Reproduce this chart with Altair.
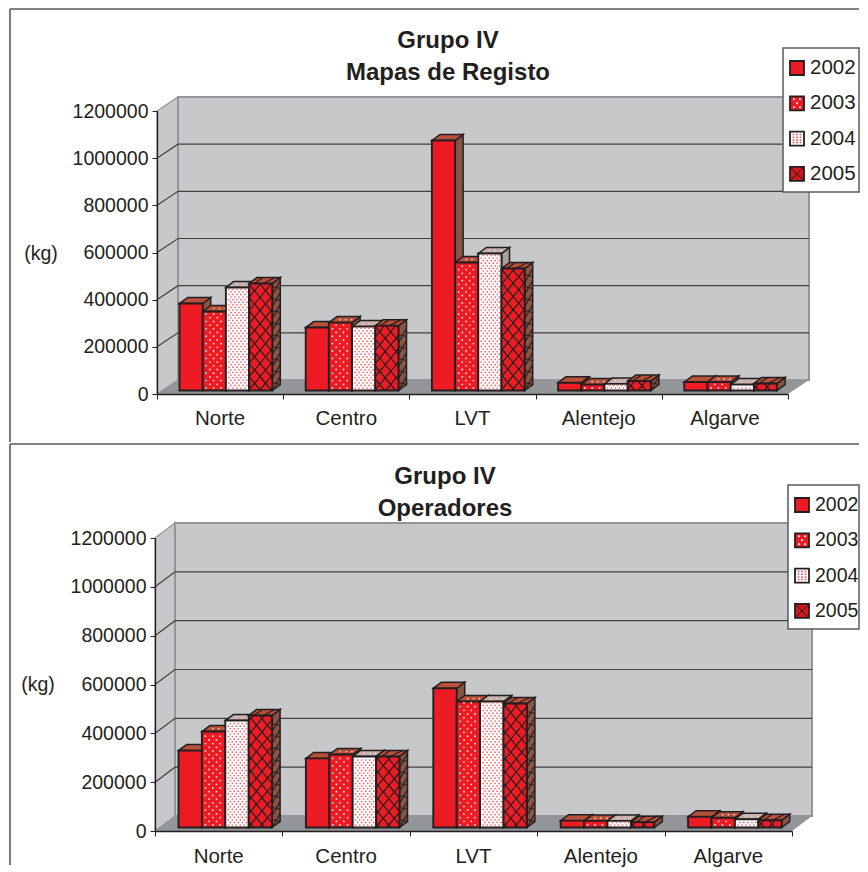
import altair as alt
import pandas as pd

REGIONS = ["Norte", "Centro", "LVT", "Alentejo", "Algarve"]
YEARS = ["2002", "2003", "2004", "2005"]

MAPAS_2002 = [369000, 267000, 1060000, 33000, 36000]
MAPAS_2003 = [335000, 288000, 543000, 25000, 36000]
MAPAS_2004 = [437000, 271000, 581000, 28000, 25000]
MAPAS_2005 = [454000, 275000, 517000, 40000, 30000]

OPER_2002 = [315000, 283000, 570000, 28000, 44000]
OPER_2003 = [393000, 299000, 516000, 27000, 40000]
OPER_2004 = [438000, 291000, 516000, 27000, 34000]
OPER_2005 = [459000, 291000, 508000, 22000, 30000]

TICKS = [0, 200000, 400000, 600000, 800000, 1000000, 1200000]
YMAX = 1200000

RED = "#ed1c24"
INK = "#231f20"
FRAME = "#58595b"
WALL = "#c7c8ca"
FLOOR = "#939598"
FONT = "Liberation Sans"
FRONT = [RED, RED, "#ffffff", RED]
TOP = ["#b9503a", "#b9503a", "#c5b0ac", "#b9503a"]
SIDE = ["#8a5443", "#8a5443", "#a7a09f", "#8a5443"]
RIGHT_EDGE = 859
OX = 157


def panel(series, title, W, H, shift, oy, ftop, fbot, start, bw, wdx, wdy, lx, ly, tx, ty, kgx, kgy, caty, lfs):
    ox = OX
    xs = alt.Scale(domain=[0, 5], nice=False, zero=False, range=[-shift, W - shift])
    ys = alt.Scale(domain=[0, YMAX], nice=False, zero=True)
    ax = alt.Axis(values=[0, 1, 2, 3, 4, 5], labels=False, grid=False, tickSize=5, title=None,
                  tickColor=INK, domainColor=INK, domainWidth=1.3, tickWidth=1, zindex=1)
    ay = alt.Axis(values=TICKS, format="d", grid=False, tickSize=5, tickColor=INK, domainColor=INK, title=None,
                  domainWidth=1.3, tickWidth=1, labelPadding=4, labelFont=FONT, labelFontSize=19.5,
                  labelColor=INK, zindex=1, offset=shift)
    ux = 5 / W
    uy = YMAX / H
    X = lambda name="x", **k: alt.X(f"{name}:Q", scale=xs, axis=ax, **k)
    Y = lambda name="y", **k: alt.Y(f"{name}:Q", scale=ys, axis=ay, **k)

    base = 3.5 * uy
    dx = 8 * ux
    dy = 6 * uy

    fronts, sides, tops = [], [], []
    white, pink, top_dots, hatch = [], [], [], []
    for j, vals in enumerate(series):
        for i, v in enumerate(vals):
            x0 = i + (start + j * bw) * ux
            x1 = x0 + bw * ux
            y0 = base
            y1 = base + v
            bid = f"{i}-{j}"
            fronts.append(dict(x=x0, x2=x1, y=y0, y2=y1, c=FRONT[j]))
            sides += [
                dict(id=bid, x=x1, y=y0, y2=y1, c=SIDE[j]),
                dict(id=bid, x=x1 + dx, y=y0 + dy, y2=y1 + dy, c=SIDE[j]),
            ]
            tops += [
                dict(id=bid, x=x0, x2=x1, y=y1, c=TOP[j]),
                dict(id=bid, x=x0 + dx, x2=x1 + dx, y=y1 + dy, c=TOP[j]),
            ]
            hpx = v / uy
            if j == 1:
                r = 0
                py = 2.5
                while py < hpx - 1:
                    px = 3.5 if r % 2 == 0 else 7.2
                    while px < bw - 1.5:
                        white.append(dict(x=x0 + px * ux, y=y0 + py * uy))
                        px += 7.4
                    py += 3.7
                    r += 1
            if j == 2:
                r = 0
                py = 2.5
                while py < hpx - 1:
                    px = 3.0 if r % 2 == 0 else 5.0
                    while px < bw - 1.5:
                        pink.append(dict(x=x0 + px * ux, y=y0 + py * uy))
                        px += 4.0
                    py += 2.6
                    r += 1
            if j in (1, 2):
                for f in (0.3, 0.55, 0.8):
                    top_dots.append(dict(x=x0 + (bw * f + 4) * ux, y=y1 + 3 * uy))
            if j == 3:
                sl = 1.2
                step = 11.0
                c = -bw * sl - step
                while c < hpx + step * sl:
                    for sign in (1, -1):
                        a, b = 0.0, bw
                        f = lambda t: (c + sl * t) if sign == 1 else (hpx - c - sl * t)
                        t0, t1 = a, b
                        ya, yb = f(t0), f(t1)
                        if ya < 0 and yb < 0 or ya > hpx and yb > hpx:
                            continue
                        if ya < 0:
                            t0 = a + (0 - ya) / (yb - ya) * (b - a)
                        elif ya > hpx:
                            t0 = a + (hpx - ya) / (yb - ya) * (b - a)
                        if yb < 0:
                            t1 = a + (0 - ya) / (yb - ya) * (b - a)
                        elif yb > hpx:
                            t1 = a + (hpx - ya) / (yb - ya) * (b - a)
                        hatch.append(dict(x=x0 + t0 * ux, x2=x0 + t1 * ux, y=y0 + f(t0) * uy, y2=y0 + f(t1) * uy))
                    c += step * sl
                t = 0.0
                while t + 8 <= hpx:
                    hatch.append(dict(x=x1, x2=x1 + dx, y=y0 + t * uy, y2=y0 + (t + 14) * uy))
                    hatch.append(dict(x=x1, x2=x1 + dx, y=y0 + (t + 8) * uy, y2=y0 + (t + 6) * uy))
                    t += 12.0
                hatch.append(dict(x=x0 + 5 * ux, x2=x0 + (bw * 0.6) * ux, y=y1, y2=y1 + dy))
                hatch.append(dict(x=x0 + (bw * 0.6) * ux, x2=x1 + 3 * ux, y=y1, y2=y1 + dy))

    wx = wdx * ux
    wy = wdy * uy
    fill = alt.Color("c:N", scale=None)

    layers = []
    floor = pd.DataFrame([dict(x=0, x2=5, y=0), dict(x=wx, x2=5 + wx, y=wy)])
    layers.append(alt.Chart(floor).mark_area(orient="horizontal", color=FLOOR).encode(
        x=X(), x2="x2:Q", y=Y()))
    lw = pd.DataFrame([dict(x=0, y=0, y2=YMAX), dict(x=wx, y=wy, y2=YMAX + wy)])
    layers.append(alt.Chart(lw).mark_area(orient="vertical", color=WALL, stroke=FLOOR, strokeWidth=1.3).encode(
        x=X(), y=Y(), y2="y2:Q"))
    bw_df = pd.DataFrame([dict(x=wx, x2=5 + wx, y=wy, y2=YMAX + wy)])
    layers.append(alt.Chart(bw_df).mark_rect(color=WALL, stroke=FLOOR, strokeWidth=2).encode(
        x=X(), x2="x2:Q", y=Y(), y2="y2:Q"))
    grid = []
    for t in TICKS[1:-1]:
        grid += [dict(t=t, x=0, y=t), dict(t=t, x=wx, y=t + wy), dict(t=t, x=5 + wx, y=t + wy)]
    layers.append(alt.Chart(pd.DataFrame(grid)).mark_line(color="#414042", strokeWidth=1.2).encode(
        x=X(), y=Y(), detail="t:N"))
    layers.append(alt.Chart(pd.DataFrame(sides)).mark_area(orient="vertical", stroke=INK, strokeWidth=1.5).encode(
        x=X(), y=Y(), y2="y2:Q", detail="id:N", color=fill))
    layers.append(alt.Chart(pd.DataFrame(tops)).mark_area(orient="horizontal", stroke=INK, strokeWidth=1.5).encode(
        y=Y(), x=X(), x2="x2:Q", detail="id:N", color=fill))
    layers.append(alt.Chart(pd.DataFrame(top_dots)).mark_circle(size=3, color="#e9d3cd", opacity=1).encode(x=X(), y=Y()))
    layers.append(alt.Chart(pd.DataFrame(fronts)).mark_rect(stroke=INK, strokeWidth=1.9).encode(
        x=X(), x2="x2:Q", y=Y(), y2="y2:Q", color=fill))
    layers.append(alt.Chart(pd.DataFrame(white)).mark_circle(size=3.2, color="#fde3e3", opacity=1).encode(x=X(), y=Y()))
    layers.append(alt.Chart(pd.DataFrame(pink)).mark_circle(size=3, color="#f0656a", opacity=1).encode(x=X(), y=Y()))
    layers.append(alt.Chart(pd.DataFrame(hatch)).mark_rule(color=INK, strokeWidth=1.2).encode(
        x=X(), x2="x2:Q", y=Y(), y2="y2:Q"))
    cats = pd.DataFrame({"region": REGIONS, "x": [i + 0.5 for i in range(5)]})
    layers.append(alt.Chart(cats).mark_text(font=FONT, fontSize=20.5, color=INK, baseline="middle").encode(
        x=X(), y=alt.value(caty - oy), text="region:N"))

    one = pd.DataFrame({"t": ["(kg)"]})
    layers.append(alt.Chart(one).mark_text(font=FONT, fontSize=19.5, color=INK, baseline="middle").encode(
        x=alt.value(kgx - ox), y=alt.value(kgy - oy), text="t:N"))
    for n, line in enumerate(title):
        layers.append(alt.Chart(pd.DataFrame({"t": [line]})).mark_text(
            font=FONT, fontSize=24, fontWeight="bold", color=INK, baseline="middle").encode(
            x=alt.value(tx - ox), y=alt.value(ty + n * 31.5 - oy), text="t:N"))
    layers.append(alt.Chart(one).mark_rule(color=FRAME, strokeWidth=1.6).encode(
        x=alt.value(10 - ox), y=alt.value(ftop - oy), y2=alt.value(fbot - oy)))
    layers.append(alt.Chart(one).mark_rule(color=FRAME, strokeWidth=1.6).encode(
        x=alt.value(10 - ox), x2=alt.value(RIGHT_EDGE - ox), y=alt.value(ftop - oy)))

    layers.append(alt.Chart(one).mark_rect(fill="#ffffff", stroke=FRAME, strokeWidth=1.5).encode(
        x=alt.value(lx - ox), x2=alt.value(min(lx + 78, RIGHT_EDGE) - ox), y=alt.value(ly - oy), y2=alt.value(ly + 144 - oy)))
    for k, yr in enumerate(YEARS):
        cy = ly + 20 + k * 35.3 - oy
        sx = lx + 7 - ox
        sym_fill = ["#ed1c24", "#ed1c24", "#ffffff", "#d4171f"][k]
        layers.append(alt.Chart(one).mark_rect(fill=sym_fill, stroke=INK, strokeWidth=1.8).encode(
            x=alt.value(sx), x2=alt.value(sx + 14), y=alt.value(cy - 7), y2=alt.value(cy + 7)))
        if k == 1:
            for a, b in [(4, -4), (10, -4), (7, 0), (4, 4), (10, 4)]:
                layers.append(alt.Chart(one).mark_circle(size=4, color="#ffffff", opacity=1).encode(
                    x=alt.value(sx + a), y=alt.value(cy + b)))
        if k == 2:
            for a in (3.5, 7, 10.5):
                for b in (-4, -1.3, 1.3, 4):
                    layers.append(alt.Chart(one).mark_circle(size=4, color="#f0656a", opacity=1).encode(
                        x=alt.value(sx + a), y=alt.value(cy + b)))
        if k == 3:
            layers.append(alt.Chart(one).mark_rule(color=INK, strokeWidth=1).encode(
                x=alt.value(sx + 1), x2=alt.value(sx + 13), y=alt.value(cy - 6), y2=alt.value(cy + 6)))
            layers.append(alt.Chart(one).mark_rule(color=INK, strokeWidth=1).encode(
                x=alt.value(sx + 1), x2=alt.value(sx + 13), y=alt.value(cy + 6), y2=alt.value(cy - 6)))
        lab = pd.DataFrame({"t": [yr]})
        layers.append(alt.Chart(lab).mark_text(font=FONT, fontSize=lfs, color=INK, align="left", baseline="middle").encode(
            x=alt.value(sx + 20), y=alt.value(cy), text="t:N"))

    return alt.layer(*layers).properties(width=W, height=H)


top = panel([MAPAS_2002, MAPAS_2003, MAPAS_2004, MAPAS_2005], ["Grupo IV", "Mapas de Registo"],
            631, 283, 0, 111, 9, 442, 22.5, 23.2, 21, 14, 783, 48, 448, 41, 41, 254, 419, 20.5)
bottom = panel([OPER_2002, OPER_2003, OPER_2004, OPER_2005], ["Grupo IV", "Operadores"],
               637, 293, 2, 536, 442, 863, 23.5, 23.4, 20, 15, 788, 483, 445, 475, 38, 683, 855, 19.5)

chart = alt.vconcat(top, bottom, spacing=0).properties(
    padding={"left": 1, "top": 0, "right": 0, "bottom": 0}
).configure_view(stroke=None)

chart.save("out.html", embed_options={"renderer": "svg", "actions": False})
